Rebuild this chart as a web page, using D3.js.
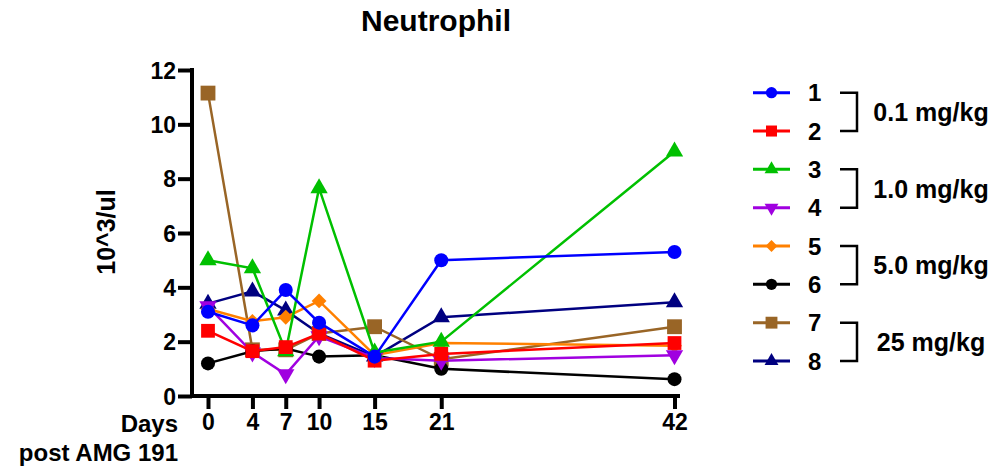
<!DOCTYPE html>
<html>
<head>
<meta charset="utf-8">
<script src="https://cdn.jsdelivr.net/npm/d3@7"></script>
<style>
	body { margin: 0; background: #fff; }
	svg { display: block; font-family: "Liberation Sans", Arial, sans-serif; font-weight: bold; }
</style>
</head>
<body>
<svg></svg>
<script>
// neutrophil counts per animal, days post dose

const days = [0, 4, 7, 10, 15, 21, 42]
const yTicks = [0, 2, 4, 6, 8, 10, 12]

const animals = ["1", "2", "3", "4", "5", "6", "7", "8"]
const s1 = [3.1, 2.6, 3.9, 2.7, 1.45, 5.0, 5.3]
const s2 = [2.4, 1.65, 1.8, 2.3, 1.3, 1.55, 1.95]
const s3 = [5.0, 4.7, 1.65, 7.65, 1.6, 2.0, 9.0]
const s4 = [3.3, 1.6, 0.8, 2.2, 1.4, 1.3, 1.5]
const s5 = [3.2, 2.75, 2.9, 3.5, 1.5, 1.95, 1.85]
const s6 = [1.2, 1.65, 1.75, 1.45, 1.5, 1.0, 0.62]
const s7 = [11.15, 1.7, 1.7, 2.3, 2.55, 1.35, 2.55]
const s8 = [3.4, 3.85, 3.15, 2.3, 1.45, 2.9, 3.45]

const doseGroups = ["0.1 mg/kg", "1.0 mg/kg", "5.0 mg/kg", "25 mg/kg"]

const colors = ["#0000ff", "#ff0000", "#00c000", "#a000e0", "#ff8000", "#000000", "#996526", "#000080"]
const shapes = ["circle", "square", "up", "down", "diamond", "circle", "bigsquare", "up"]

const svg = d3.select("svg")
svg
	.attr("width", 994)
	.attr("height", 471)

const series = animals.map((a, i) => {
	const vals = [s1, s2, s3, s4, s5, s6, s7, s8][i]
	return { name: a, color: colors[i], shape: shapes[i], points: days.map((d, j) => ({ day: d, value: vals[j] })) }
})

const scaleX = d3.scaleLinear()
	.domain([0, 42])
	.range([208, 674.5])

const scaleY = d3.scaleLinear()
	.domain([0, 12])
	.range([396, 70])

// marker path for each shape, k scales it down for legend
const markerPath = (shape, k) => {
	if (shape == "circle") return d3.symbol(d3.symbolCircle, 155 * k * k)()
	if (shape == "square") return d3.symbol(d3.symbolSquare, 190 * k * k)()
	if (shape == "bigsquare") return d3.symbol(d3.symbolSquare, 220 * k * k)()
	if (shape == "diamond") return d3.symbol(d3.symbolSquare, 110 * k * k)()
	return d3.symbol(d3.symbolTriangle, 130 * k * k)()
}
const markerRotate = (shape) => {
	if (shape == "down") return 180
	if (shape == "diamond") return 45
	return 0
}

// title
svg.append("text")
	.attr("x", 436)
	.attr("y", 31)
	.attr("text-anchor", "middle")
	.style("font-size", "30px")
	.text("Neutrophil")

// axes
const yAxis = d3.axisLeft(scaleY)
	.tickValues(yTicks)
	.tickSize(14)
	.tickPadding(2)
svg.append("g")
	.attr("transform", "translate(192,0)")
	.call(yAxis)
	.call(g => g.select(".domain").attr("d", "M0,68V397.5").attr("stroke-width", 4))
	.call(g => g.selectAll(".tick line").attr("stroke-width", 4))
	.call(g => g.selectAll(".tick text").style("font-size", "23px").style("font-family", "Liberation Sans, Arial").attr("dy", "0.36em"))

const xAxis = d3.axisBottom(scaleX)
	.tickValues(days)
	.tickSize(13)
	.tickPadding(5)
svg.append("g")
	.attr("transform", "translate(0,396)")
	.call(xAxis)
	.call(g => g.select(".domain").attr("d", "M190,0H680").attr("stroke-width", 4))
	.call(g => g.selectAll(".tick line").attr("stroke-width", 4))
	.call(g => g.selectAll(".tick text").style("font-size", "23px").style("font-family", "Liberation Sans, Arial"))

svg.append("text")
	.attr("x", 178)
	.attr("y", 432)
	.attr("text-anchor", "end")
	.style("font-size", "24px")
	.text("Days")

svg.append("text")
	.attr("x", 178)
	.attr("y", 461)
	.attr("text-anchor", "end")
	.style("font-size", "24px")
	.text("post AMG 191")

svg.append("text")
	.attr("transform", "translate(115,232) rotate(-90)")
	.attr("text-anchor", "middle")
	.style("font-size", "25px")
	.text("10^3/ul")

// lines and markers, drawn 8 first so 1 ends on top
const line = d3.line()
	.x(d => scaleX(d.day))
	.y(d => scaleY(d.value))

const groups = svg.selectAll("g.animal")
	.data(series.slice().reverse())
	.enter()
	.append("g")
	.attr("class", "animal")

groups.append("path")
	.attr("d", d => line(d.points))
	.attr("fill", "none")
	.attr("stroke", d => d.color)
	.attr("stroke-width", 2.5)

groups.each(function (s) {
	d3.select(this).selectAll("path.mark")
		.data(s.points)
		.enter()
		.append("path")
		.attr("class", "mark")
		.attr("d", markerPath(s.shape, 1))
		.attr("fill", s.color)
		.attr("transform", d => `translate(${scaleX(d.day)},${scaleY(d.value)}) rotate(${markerRotate(s.shape)})`)
})

// legend
const legendY = d3.scalePoint()
	.domain(animals)
	.range([92.7, 361])

const legend = svg.selectAll("g.legend")
	.data(series)
	.enter()
	.append("g")
	.attr("class", "legend")
	.attr("transform", d => `translate(0,${legendY(d.name)})`)

legend.append("line")
	.attr("x1", 753)
	.attr("x2", 790)
	.attr("stroke", d => d.color)
	.attr("stroke-width", 3)

legend.append("path")
	.attr("d", d => markerPath(d.shape, 0.8))
	.attr("fill", d => d.color)
	.attr("transform", d => `translate(771.5,0) rotate(${markerRotate(d.shape)})`)

legend.append("text")
	.attr("x", 808)
	.attr("dy", "0.36em")
	.style("font-size", "24px")
	.text(d => d.name)

// dose brackets
const brackets = svg.selectAll("g.dose")
	.data(doseGroups)
	.enter()
	.append("g")
	.attr("class", "dose")

brackets.append("path")
	.attr("d", (d, i) => {
		const y1 = legendY(animals[i * 2])
		const y2 = legendY(animals[i * 2 + 1])
		return `M840,${y1}H857V${y2}H840`
	})
	.attr("fill", "none")
	.attr("stroke", "#000")
	.attr("stroke-width", 2.5)

brackets.append("text")
	.attr("x", 931)
	.attr("y", (d, i) => (legendY(animals[i * 2]) + legendY(animals[i * 2 + 1])) / 2)
	.attr("dy", "0.36em")
	.attr("text-anchor", "middle")
	.style("font-size", "25px")
	.text(d => d)
</script>
</body>
</html>
